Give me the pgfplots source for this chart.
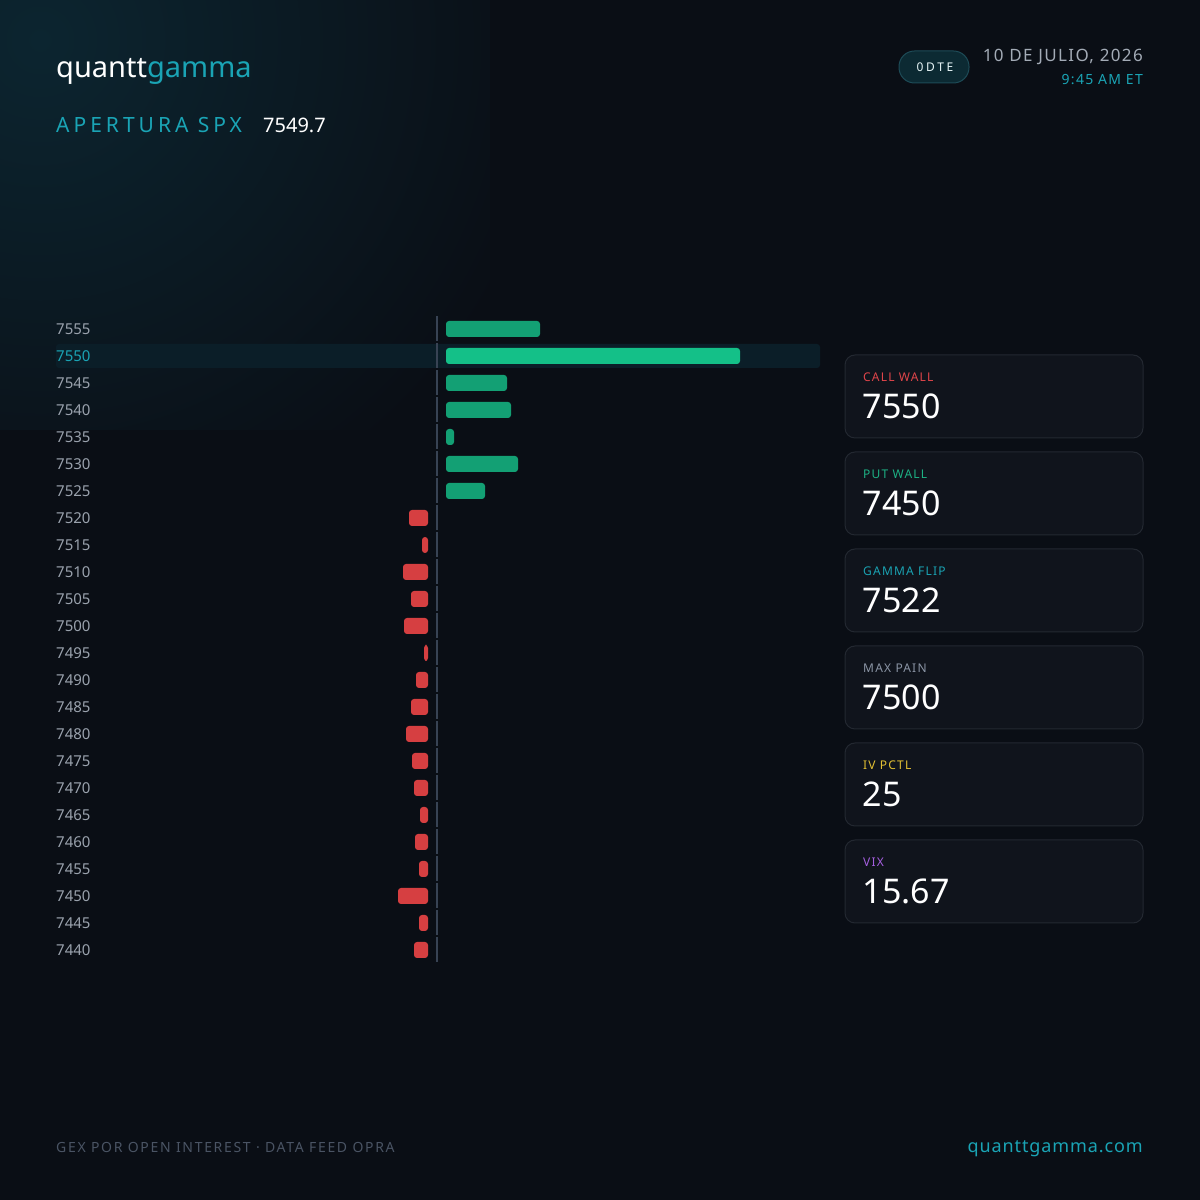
\documentclass[border=0pt]{standalone}
\usepackage{fontspec}
\setmainfont{Noto Sans}
\usepackage{pgfplots}
\usepackage{pgfplotstable}
\pgfplotsset{compat=1.18}

\definecolor{bg}{HTML}{0A0E15}
\definecolor{glow}{HTML}{0C2530}
\definecolor{hl}{HTML}{0B1E28}
\definecolor{teal}{HTML}{1AA4B5}
\definecolor{lblgray}{HTML}{9AA2AD}
\definecolor{zeroln}{HTML}{384354}
\definecolor{gdim}{HTML}{13A074}
\definecolor{gbright}{HTML}{14C088}
\definecolor{rbar}{HTML}{D63F41}
\definecolor{cardbg}{HTML}{10141C}
\definecolor{cardln}{HTML}{232831}
\definecolor{cw}{HTML}{E0454A}
\definecolor{pw}{HTML}{1DB184}
\definecolor{gf}{HTML}{1AA3B3}
\definecolor{mp}{HTML}{8B95A5}
\definecolor{iv}{HTML}{E2C033}
\definecolor{vx}{HTML}{A55FE0}
\definecolor{datec}{HTML}{A3ABB6}
\definecolor{footc}{HTML}{4A5464}
\definecolor{badgebg}{HTML}{0C2A33}
\definecolor{badgeln}{HTML}{1D4B57}

\newcommand\fs[1]{\fontsize{#1}{#1}\selectfont}

% GEX bars (lengths read in pixels of the reference)
\pgfplotstableread{
strike val
7555 94
7545 61
7540 65
7535 8
7530 72
7525 39
}\greentab
\pgfplotstableread{
strike val
7550 294
}\walltab
\pgfplotstableread{
strike val
7520 -19
7515 -6
7510 -25
7505 -17
7500 -24
7495 -4
7490 -12
7485 -17
7480 -22
7475 -16
7470 -14
7465 -8
7460 -13
7455 -9
7450 -30
7445 -9
7440 -14
}\redtab

\pgfplotsset{
  basegex/.style={
    scale only axis, width=764pt, height=648pt,
    at={(56pt,236.5pt)}, anchor=south west,
    ymin=7437.5, ymax=7557.5, enlargelimits=false,
  },
  gexbar/.style={xbar, bar width=16pt, bar shift=0pt, draw=none, rounded corners=3pt},
}

\begin{document}
\begin{tikzpicture}[x=1pt,y=1pt]
\fill[bg] (0,0) rectangle (1200,1200);
\begin{scope}
\clip (0,770) rectangle (490,1200);
\shade[inner color=glow, outer color=bg] (40,1160) circle (520);
\end{scope}
\fill[hl, rounded corners=3pt] (56,832) rectangle (820,856);

% main axis: labels + zero line
\begin{axis}[basegex,
  xmin=-381, xmax=383,
  axis line style={draw=none}, xtick=\empty,
  ytick={7440,7445,...,7555},
  yticklabels={7440,7445,7450,7455,7460,7465,7470,7475,7480,7485,7490,7495,7500,7505,7510,7515,7520,7525,7530,7535,7540,7545,\textcolor{teal}{7550},7555},
  major tick length=0pt,
  yticklabel style={anchor=west, inner sep=0pt, text=lblgray, font=\fs{15}},
]
\draw[zeroln, line width=2pt, dash pattern=on 25pt off 2pt, dash phase=26pt]
  (axis cs:0,7557.5) -- (axis cs:0,7437.5);
\end{axis}

% positive GEX (bars start 9 px right of the zero line)
\begin{axis}[basegex, hide axis, xmin=-390, xmax=374]
\addplot[gexbar, fill=gdim] table[x=val, y=strike] {\greentab};
\addplot[gexbar, fill=gbright] table[x=val, y=strike] {\walltab};
\end{axis}

% negative GEX (bars end 9 px left of the zero line)
\begin{axis}[basegex, hide axis, xmin=-372, xmax=392]
\addplot[gexbar, fill=rbar] table[x=val, y=strike] {\redtab};
\end{axis}

% header
\node[anchor=base west, inner sep=0, font=\fs{29}] at (56,1122)
  {\textcolor{white}{quantt}\textcolor{teal}{gamma}};
\node[anchor=base west, inner sep=0, text=teal, font=\fs{21}\addfontfeature{LetterSpace=19}] at (56,1067) {APERTURA SPX};
\node[anchor=base west, inner sep=0, text=white, font=\fs{20}] at (263,1067) {7549.7};

\draw[badgeln, fill=badgebg, line width=1pt, rounded corners=15.5pt] (899,1117) rectangle (969,1149);
\node[inner sep=0, text=white!90!teal, font=\fs{12}\addfontfeature{LetterSpace=22}] at (935,1133) {0DTE};
\node[anchor=base east, inner sep=0, text=datec, font=\fs{17}\addfontfeature{LetterSpace=8}] at (1143,1138) {10 DE JULIO, 2026};
\node[anchor=base east, inner sep=0, text=teal, font=\fs{14}\addfontfeature{LetterSpace=9}] at (1143,1115) {9:45 AM ET};

% cards
\foreach \i/\lab/\col/\val in {0/CALL WALL/cw/7550, 1/PUT WALL/pw/7450, 2/GAMMA FLIP/gf/7522, 3/MAX PAIN/mp/7500, 4/IV PCTL/iv/25, 5/VIX/vx/15.67}{
  \pgfmathsetmacro\top{1200-355-97*\i}
  \draw[cardln, fill=cardbg, line width=1pt, rounded corners=10pt] (845,\top-83) rectangle (1143,\top);
  \node[anchor=base west, inner sep=0, text=\col, font=\fs{12}\addfontfeature{LetterSpace=10}] at (863,\top-27) {\lab};
  \node[anchor=base west, inner sep=0, text=white, font=\fs{34}] at (862.5,\top-64) {\val};
}

% footer
\node[anchor=base west, inner sep=0, text=footc, font=\fs{14}\addfontfeature{LetterSpace=12}] at (56,47) {GEX POR OPEN INTEREST · DATA FEED OPRA};
\node[anchor=base east, inner sep=0, text=teal, font=\fs{18}\addfontfeature{LetterSpace=5}] at (1143,47) {quanttgamma.com};
\end{tikzpicture}
\end{document}
